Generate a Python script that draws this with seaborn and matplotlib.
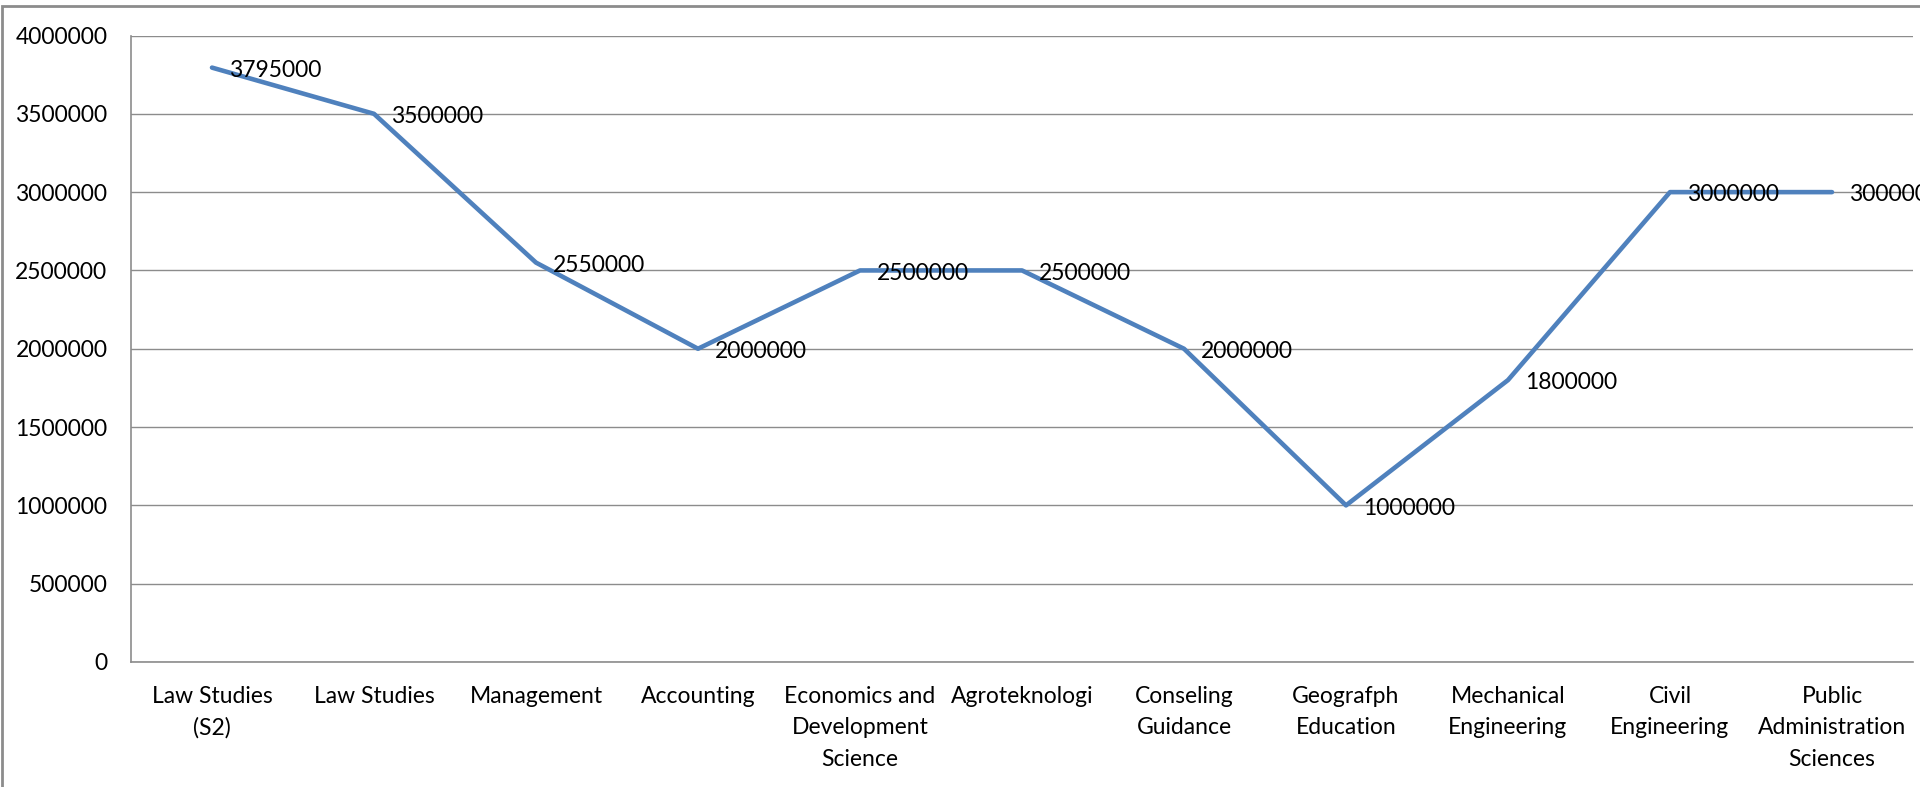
import numpy as np
import matplotlib
matplotlib.use('Agg')
import matplotlib.pyplot as plt
import seaborn as sns
from matplotlib.patches import Rectangle

# data
majors = ['Law Studies\n(S2)', 'Law Studies', 'Management', 'Accounting',
          'Economics and\nDevelopment\nScience', 'Agroteknologi',
          'Conseling\nGuidance', 'Geografph\nEducation', 'Mechanical\nEngineering',
          'Civil\nEngineering', 'Public\nAdministration\nSciences']
fees = [3795000, 3500000, 2550000, 2000000, 2500000, 2500000,
        2000000, 1000000, 1800000, 3000000, 3000000]
y_ticks = [0, 500000, 1000000, 1500000, 2000000, 2500000, 3000000, 3500000, 4000000]

sns.set_style('white')
plt.rcParams['font.family'] = ['Lato', 'DejaVu Sans']
fs = 16.5

fig = plt.figure(figsize=(19.2, 7.87), dpi=100)
ax = fig.add_axes([131/1920, 1-662/787, 1782/1920, (662-35.5)/787])

pos = np.arange(len(majors))
sns.lineplot(x=pos, y=fees, ax=ax, color='#4F81BD', linewidth=3.3, zorder=3)

#data labels right of each point
for x, v in zip(pos, fees):
    ax.annotate(str(v), (x, v), xytext=(12, -2), textcoords='offset points',
                ha='left', va='center', fontsize=fs, color='black',
                zorder=4, annotation_clip=False)

ax.set_xlim(-0.5, len(majors)-0.5)
ax.set_ylim(0, 4000000)
ax.set_yticks(y_ticks)
ax.set_yticklabels([str(t) for t in y_ticks], fontsize=fs)
ax.set_xticks(pos)
ax.set_xticklabels(majors, fontsize=fs, linespacing=1.62)
ax.tick_params(axis='both', length=0, colors='black')
ax.tick_params(axis='y', pad=17)
ax.tick_params(axis='x', pad=17)
ax.yaxis.grid(True, color='#8c8c8c', linewidth=1)
ax.set_axisbelow(True)

for s in ['top', 'right']:
    ax.spines[s].set_visible(False)
for s in ['left', 'bottom']:
    ax.spines[s].set_color('#8c8c8c')
    ax.spines[s].set_linewidth(1.2)

#outer chart border
fig.patches.append(Rectangle((2/1920, -0.05), 1.1, 1.05-6/787, transform=fig.transFigure,
                             fill=False, edgecolor='#8c8c8c', linewidth=2))

plt.savefig('out.png', dpi=100)
